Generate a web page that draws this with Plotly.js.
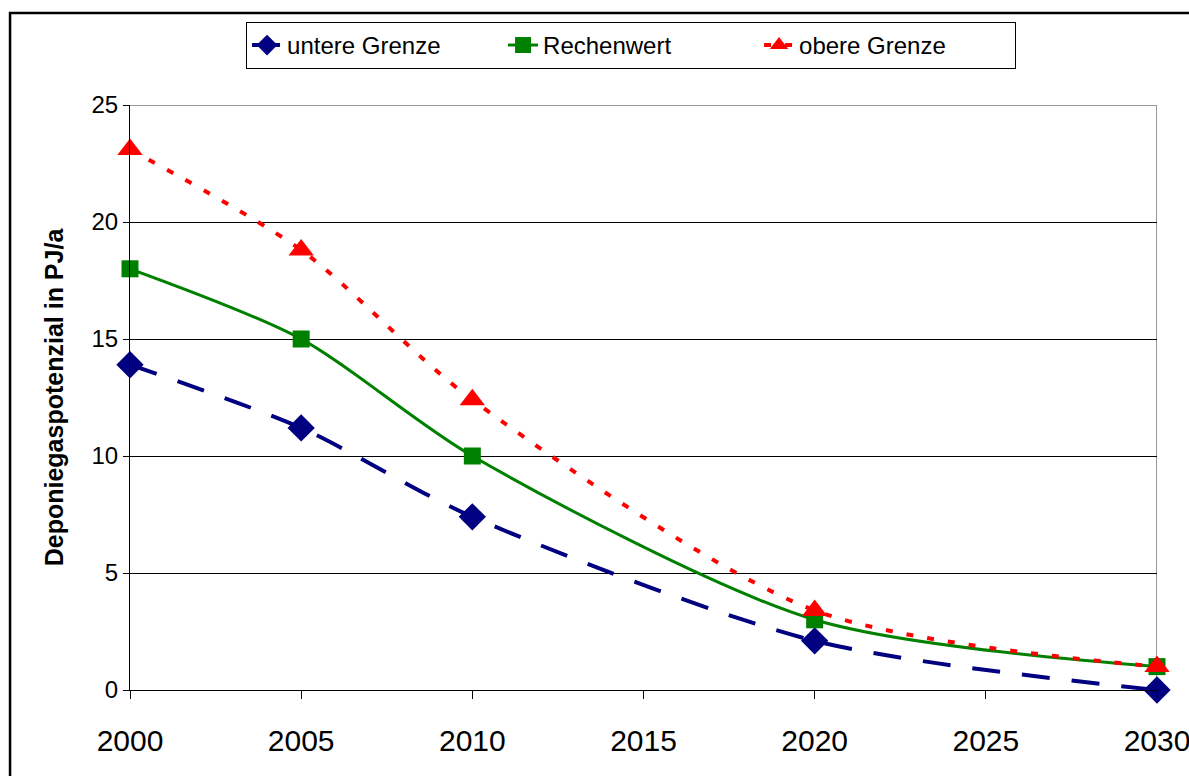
<!DOCTYPE html>
<html>
<head>
<meta charset="utf-8">
<script src="https://cdn.plot.ly/plotly-3.0.1.min.js"></script>
<style>html,body{margin:0;padding:0;background:#fff;}#chart{width:1189px;height:776px;}</style>
</head>
<body>
<div id="chart"></div>
<script>
var years = [2000, 2005, 2010, 2020, 2030];
var untereGrenze = [13.9, 11.2, 7.4, 2.1, 0];
var rechenwert = [18, 15, 10, 3, 1];
var obereGrenze = [23.1, 18.8, 12.4, 3.4, 1.0];
var xTicks = [2000, 2005, 2010, 2015, 2020, 2025, 2030];
var yTicks = [0, 5, 10, 15, 20, 25];

var traces = [
  {x: years, y: untereGrenze, name: 'untere Grenze', type: 'scatter', mode: 'lines+markers',
   line: {color: '#000080', width: 4, dash: '28px,22px', shape: 'spline', smoothing: 0.8},
   marker: {symbol: 'diamond', size: 21, color: '#000080'}, cliponaxis: false},
  {x: years, y: rechenwert, name: 'Rechenwert', type: 'scatter', mode: 'lines+markers',
   line: {color: '#008000', width: 3, shape: 'spline', smoothing: 0.8},
   marker: {symbol: 'square', size: 17, color: '#008000'}, cliponaxis: false},
  {x: years, y: obereGrenze, name: 'obere Grenze', type: 'scatter', mode: 'lines+markers',
   line: {color: '#FF0000', width: 4, dash: '7px,14px', shape: 'spline', smoothing: 0.8},
   marker: {symbol: 'triangle-up', size: 22, color: '#FF0000'}, cliponaxis: false}
];

var layout = {
  width: 1189, height: 776,
  margin: {l: 130, r: 32, t: 105, b: 86},
  paper_bgcolor: '#fff', plot_bgcolor: '#fff',
  font: {family: 'Arial, Liberation Sans, sans-serif', color: '#000'},
  showlegend: true,
  legend: {orientation: 'h', x: 0.113, xanchor: 'left', y: 1.142, yanchor: 'top',
           bordercolor: '#000', borderwidth: 1, font: {size: 24}, bgcolor: '#fff',
           entrywidth: 211},
  xaxis: {range: [2000, 2030], tickvals: xTicks, ticktext: xTicks.map(String),
          showgrid: false, zeroline: false, showline: true, linecolor: '#000', linewidth: 1,
          ticks: 'outside', ticklen: 8, tickcolor: '#000', tickfont: {size: 30},
          ticklabelstandoff: 16, ticklabeloverflow: 'allow'},
  yaxis: {range: [0, 25], tickvals: yTicks, ticktext: yTicks.map(String),
          showgrid: true, gridcolor: '#000', gridwidth: 1, zeroline: false,
          showline: true, linecolor: '#000', linewidth: 1,
          ticks: 'outside', ticklen: 6, tickcolor: '#000', tickfont: {size: 24},
          title: {text: '<b>Deponiegaspotenzial in PJ/a</b>', font: {size: 25}, standoff: 20}},
  shapes: [
    {type: 'line', xref: 'x', yref: 'y', x0: 2000, x1: 2030, y0: 25, y1: 25, line: {color: '#999', width: 2}, layer: 'below'},
    {type: 'line', xref: 'x', yref: 'y', x0: 2030, x1: 2030, y0: 0, y1: 25, line: {color: '#999', width: 2}, layer: 'below'},
    {type: 'rect', xref: 'paper', yref: 'paper', x0: -0.1168, x1: 1.2, y0: -0.3, y1: 1.1573, line: {color: '#000', width: 2.5}}
  ]
};

Plotly.newPlot('chart', traces, layout, {displayModeBar: false, staticPlot: true});
</script>
</body>
</html>
